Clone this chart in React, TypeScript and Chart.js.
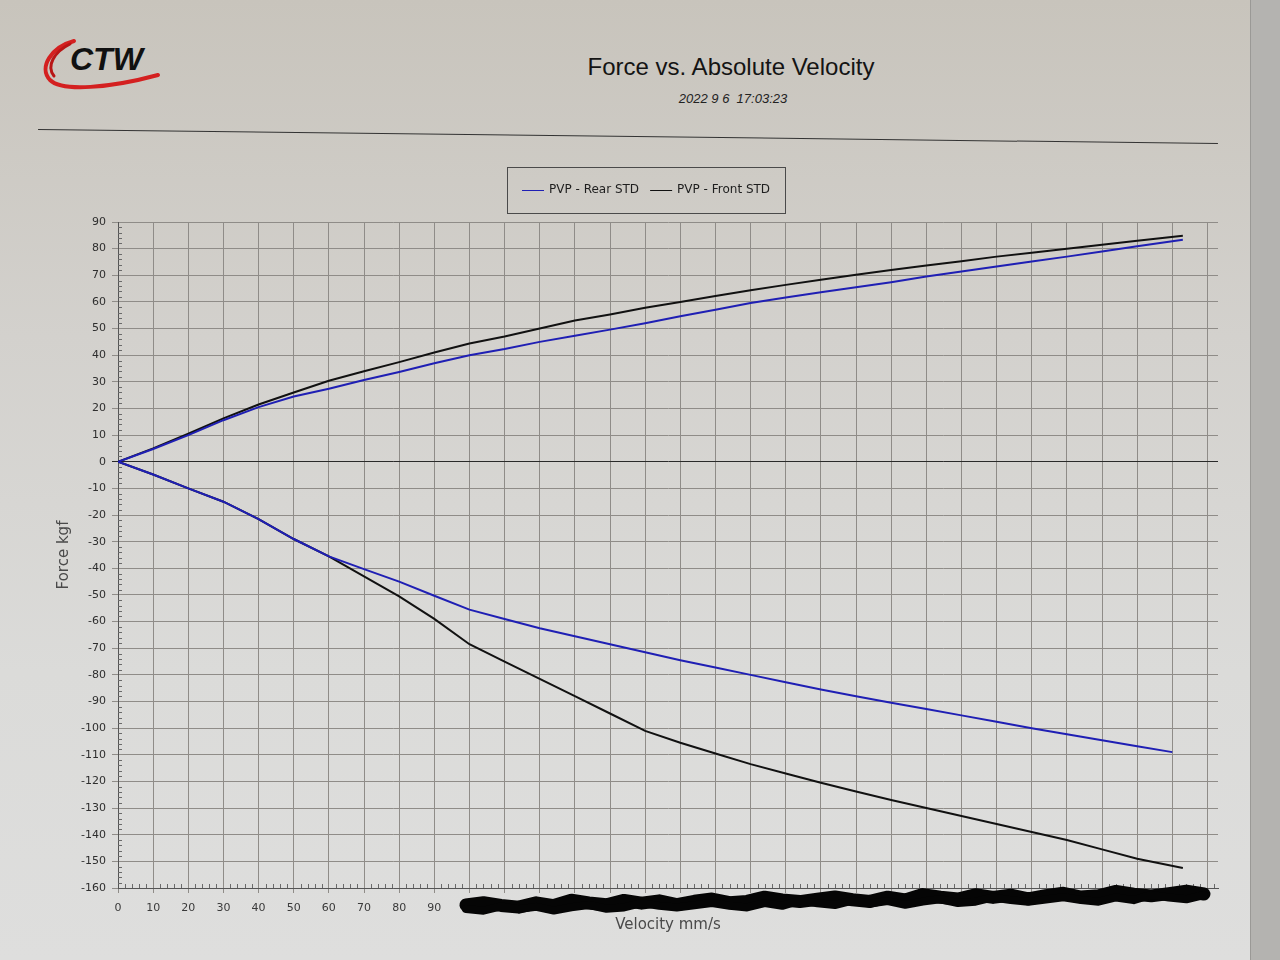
import React, { useEffect, useRef } from "react";
import { Chart, registerables } from "chart.js";

Chart.register(...registerables);

// ---- data (velocity mm/s, force kgf) ----
const velocities = [0, 10, 20, 30, 40, 50, 60, 70, 80, 90, 100, 110, 120, 130, 140, 150, 160, 170, 180, 190, 200, 210, 220, 230, 240, 250, 260, 270, 280, 290, 303];
const rearCompVelocities = [0, 10, 20, 30, 40, 50, 60, 70, 80, 90, 100, 110, 120, 130, 140, 150, 160, 170, 180, 190, 200, 210, 220, 230, 240, 250, 260, 270, 280, 290, 300];

const rearRebound = [0, 4.8, 10, 15.6, 20.5, 24.5, 27.4, 30.7, 33.7, 37, 40, 42.3, 45, 47.3, 49.6, 52, 54.6, 57.1, 59.6, 61.7, 63.6, 65.5, 67.4, 69.5, 71.4, 73.3, 75.2, 77, 78.9, 80.9, 83.3];
const rearCompression = [0, -4.8, -10, -15, -21.5, -29, -35.5, -40.3, -45, -50.3, -55.5, -59, -62.5, -65.5, -68.5, -71.5, -74.5, -77.2, -80, -82.8, -85.5, -88, -90.5, -92.8, -95.2, -97.6, -100, -102.3, -104.5, -106.8, -109];

const frontRebound = [0, 5, 10.5, 16.3, 21.5, 26, 30.4, 34, 37.4, 41, 44.4, 47, 50, 53, 55.3, 57.8, 60, 62.2, 64.4, 66.4, 68.3, 70.2, 72, 73.7, 75.3, 77, 78.5, 80, 81.5, 83, 84.8];
const frontCompression = [0, -4.8, -10, -15, -21.5, -29, -35.5, -43, -50.5, -59, -68.5, -75, -81.5, -88, -94.5, -101, -105.5, -109.5, -113.5, -117, -120.5, -123.8, -127, -130, -133, -136, -139, -142, -145.5, -149, -152.5];

const seriesLabels = ["PVP - Rear STD", "PVP - Front STD"];
const seriesColors = ["#1f1fb4", "#111111"];

const xMin = 0;
const xMax = 313;
const yMin = -160;
const yMax = 90;
const tickStep = 10;
const minorStep = 2;
const visibleXTickLimit = 100; // labels above this are blacked out in the original

const chartTitle = "Force vs. Absolute Velocity";
const chartDate = "2022 9 6  17:03:23";
const xTitle = "Velocity mm/s";
const yTitle = "Force kgf";

function buildCurve(compV: number[], comp: number[], rebV: number[], reb: number[]) {
  const pts: { x: number; y: number }[] = [];
  for (let i = compV.length - 1; i >= 0; i--) pts.push({ x: compV[i], y: comp[i] });
  for (let i = 1; i < rebV.length; i++) pts.push({ x: rebV[i], y: reb[i] });
  return pts;
}

const legendBoxPlugin = {
  id: "legendBox",
  afterDraw(chart: any) {
    const ctx = chart.ctx;
    ctx.save();
    ctx.font = '12px "DejaVu Sans"';
    const lineW = 22, gap = 5, itemGap = 11, padX = 15;
    const items = chart.data.datasets.map((d: any) => ({ label: d.label, color: d.borderColor }));
    const widths = items.map((it: any) => lineW + gap + ctx.measureText(it.label).width);
    const total = widths.reduce((a: number, b: number) => a + b, 0) + itemGap * (items.length - 1) + padX * 2;
    const cx = 646, top = 167, h = 46;
    const left = Math.round(cx - total / 2);
    ctx.strokeStyle = "#4a4a4a";
    ctx.lineWidth = 1;
    ctx.strokeRect(left + 0.5, top + 0.5, Math.round(total), h);
    let x = left + padX;
    const y = top + h / 2;
    items.forEach((it: any, i: number) => {
      ctx.strokeStyle = it.color;
      ctx.lineWidth = 1;
      ctx.beginPath();
      ctx.moveTo(x, y + 0.5);
      ctx.lineTo(x + lineW, y + 0.5);
      ctx.stroke();
      ctx.fillStyle = "#1e1e1e";
      ctx.textBaseline = "middle";
      ctx.textAlign = "left";
      ctx.fillText(it.label, x + lineW + gap, y);
      x += widths[i] + itemGap;
    });
    ctx.restore();
  },
};

const minorTicksPlugin = {
  id: "minorTicks",
  beforeDatasetsDraw(chart: any) {
    const ctx = chart.ctx;
    const xs = chart.scales.x;
    const ys = chart.scales.y;
    const a = chart.chartArea;
    ctx.save();
    ctx.strokeStyle = "#6a6a6a";
    ctx.lineWidth = 1;
    ctx.beginPath();
    for (let v = yMin; v <= yMax; v += minorStep) {
      if (v % tickStep === 0) continue;
      const py = Math.round(ys.getPixelForValue(v)) + 0.5;
      ctx.moveTo(a.left, py);
      ctx.lineTo(a.left + 4, py);
    }
    for (let v = xMin; v <= xMax; v += minorStep) {
      if (v % tickStep === 0) continue;
      const px = Math.round(xs.getPixelForValue(v)) + 0.5;
      ctx.moveTo(px, a.bottom);
      ctx.lineTo(px, a.bottom - 4);
    }
    ctx.stroke();
    ctx.restore();
  },
};

const redactionPlugin = {
  id: "redaction",
  afterDraw(chart: any) {
    const ctx = chart.ctx;
    const xs = chart.scales.x;
    const a = chart.chartArea;
    const wobble = [0, -2, 1, 3, -1, 2, -3, 0, 2, -2, 1, -1, 3, 0, -2, 2, 1, -3, 0, 2];
    const v0 = 99, v1 = 309;
    ctx.save();
    ctx.strokeStyle = "#050505";
    ctx.lineCap = "round";
    ctx.lineJoin = "round";
    for (let pass = 0; pass < 2; pass++) {
      ctx.lineWidth = pass === 0 ? 13 : 8;
      ctx.beginPath();
      let k = 0;
      for (let v = v0; v <= v1; v += 5) {
        const t = (v - v0) / (v1 - v0);
        const px = xs.getPixelForValue(v);
        const py = a.bottom + 17 - t * 12 + wobble[(k + pass * 7) % wobble.length] + (pass === 0 ? 0 : 4);
        if (k === 0) ctx.moveTo(px, py);
        else ctx.lineTo(px, py);
        k++;
      }
      ctx.stroke();
    }
    ctx.restore();
  },
};

function ForceChart() {
  const ref = useRef<HTMLCanvasElement | null>(null);
  useEffect(() => {
    if (!ref.current) return;
    const chart = new Chart(ref.current, {
      type: "scatter",
      data: {
        datasets: [
          {
            label: seriesLabels[0],
            data: buildCurve(rearCompVelocities, rearCompression, velocities, rearRebound),
            borderColor: seriesColors[0],
            backgroundColor: seriesColors[0],
            showLine: true,
            borderWidth: 2,
            pointRadius: 0,
            tension: 0,
          },
          {
            label: seriesLabels[1],
            data: buildCurve(velocities, frontCompression, velocities, frontRebound),
            borderColor: seriesColors[1],
            backgroundColor: seriesColors[1],
            showLine: true,
            borderWidth: 2,
            pointRadius: 0,
            tension: 0,
          },
        ],
      },
      options: {
        animation: false,
        responsive: false,
        devicePixelRatio: 1,
        layout: { padding: { left: 55, right: 62, top: 222, bottom: 26 } },
        plugins: {
          legend: { display: false },
          tooltip: { enabled: false },
          title: { display: false },
        },
        scales: {
          x: {
            type: "linear",
            min: xMin,
            max: xMax,
            afterFit: (s: any) => { s.height = 46; },
            ticks: {
              stepSize: tickStep,
              includeBounds: false,
              maxRotation: 0,
              autoSkip: false,
              padding: 9,
              color: "#3a3a3a",
              font: { family: "DejaVu Sans", size: 11 },
              callback: (v: any) => (Number(v) < visibleXTickLimit ? String(v) : ""),
            },
            grid: {
              color: "#8f8c88",
              lineWidth: 1,
              drawTicks: true,
              tickLength: 5,
            },
            border: { color: "#555", width: 1 },
            title: {
              display: true,
              text: xTitle,
              color: "#4a4a4a",
              font: { family: "DejaVu Sans", size: 15 },
              padding: { top: 0, bottom: 0 },
            },
          },
          y: {
            type: "linear",
            min: yMin,
            max: yMax,
            afterFit: (s: any) => { s.width = 63; },
            ticks: {
              stepSize: tickStep,
              autoSkip: false,
              padding: 6,
              color: "#2e2e2e",
              font: { family: "DejaVu Sans", size: 11 },
            },
            grid: {
              color: (c: any) => (c.tick && c.tick.value === 0 ? "#2a2a2a" : "#8f8c88"),
              lineWidth: 1,
              drawTicks: true,
              tickLength: 6,
            },
            border: { color: "#555", width: 1 },
            title: {
              display: true,
              text: yTitle,
              color: "#4a4a4a",
              font: { family: "DejaVu Sans", size: 15 },
              padding: { top: 0, bottom: 0 },
            },
          },
        },
      },
      plugins: [minorTicksPlugin, legendBoxPlugin, redactionPlugin],
    } as any);
    return () => chart.destroy();
  }, []);
  return <canvas ref={ref} width={1280} height={960} style={{ position: "absolute", left: 0, top: 0, width: 1280, height: 960 }} />;
}

function Logo() {
  return (
    <svg width={140} height={70} viewBox="0 0 140 70" style={{ position: "absolute", left: 30, top: 30 }}>
      <path d="M 44 11 C 22 17, 8 37, 20 50 C 32 62, 80 58, 128 45" fill="none" stroke="#d42020" strokeWidth={4} strokeLinecap="round" />
      <path d="M 40 14 C 24 22, 16 36, 24 46" fill="none" stroke="#b81616" strokeWidth={3} strokeLinecap="round" />
      <text x={40} y={40} fontFamily="Liberation Sans, Arial" fontWeight="bold" fontStyle="italic" fontSize={32} fill="#111">CTW</text>
    </svg>
  );
}

export default function App() {
  return (
    <div
      style={{
        position: "fixed",
        left: 0,
        top: 0,
        width: 1280,
        height: 960,
        overflow: "hidden",
        background: "linear-gradient(to bottom, #c8c4bc 0%, #d3d1cd 35%, #dbdbd9 70%, #dededd 100%)",
        fontFamily: "Liberation Sans, Arial, sans-serif",
      }}
    >
      <div style={{ position: "absolute", left: 1250, top: 0, width: 30, height: 960, background: "#b4b3b0", borderLeft: "1px solid #9a9996" }} />
      <Logo />
      <div style={{ position: "absolute", left: 531, top: 53, width: 400, textAlign: "center", fontSize: 24, lineHeight: "28px", color: "#141414" }}>
        {chartTitle}
      </div>
      <div style={{ position: "absolute", left: 583, top: 91, width: 300, textAlign: "center", fontSize: 13, lineHeight: "16px", fontStyle: "italic", color: "#222", whiteSpace: "pre" }}>
        {chartDate}
      </div>
      <div style={{ position: "absolute", left: 38, top: 136, width: 1180, height: 0, borderTop: "1px solid #333", transform: "rotate(0.68deg)" }} />
      <ForceChart />
    </div>
  );
}
